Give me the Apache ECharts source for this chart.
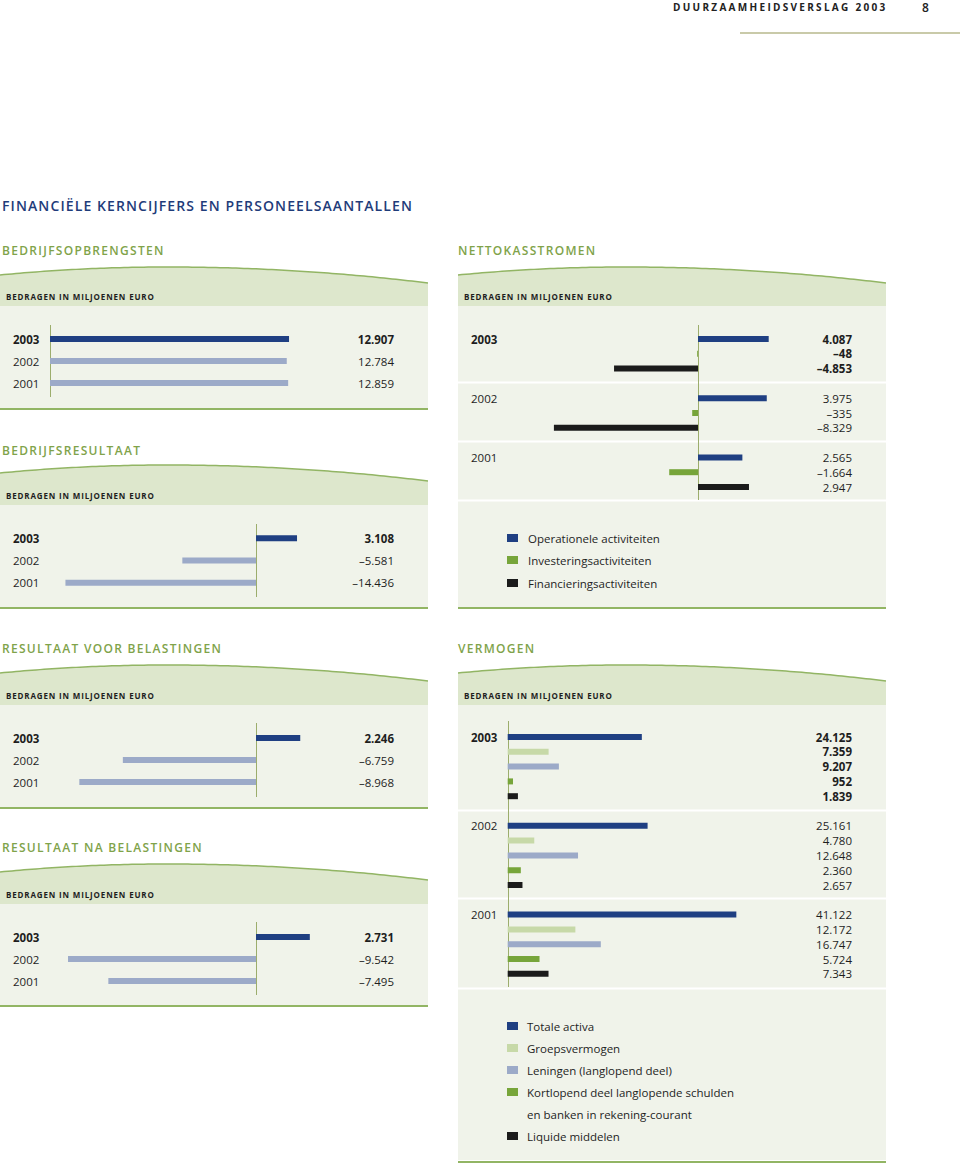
<!DOCTYPE html>
<html><head><meta charset="utf-8">
<script src="https://cdn.jsdelivr.net/npm/echarts@6/dist/echarts.min.js"></script>
<style>html,body{margin:0;padding:0;background:#fff}#c{width:960px;height:1167px}</style>
</head><body><div id="c"></div>
<script>
// ---------- DATA ----------
const years = ['2003', '2002', '2001'];
const opbrengsten = [12907, 12784, 12859];
const bedrijfsresultaat = [3108, -5581, -14436];
const resultaatVoor = [2246, -6759, -8968];
const resultaatNa = [2731, -9542, -7495];

const kasNames = ['Operationele activiteiten', 'Investeringsactiviteiten', 'Financieringsactiviteiten'];
const kasOperationeel = [4087, 3975, 2565];
const kasInvestering = [-48, -335, -1664];
const kasFinanciering = [-4853, -8329, 2947];

const vermNames = ['Totale activa', 'Groepsvermogen', 'Leningen (langlopend deel)',
  'Kortlopend deel langlopende schulden\nen banken in rekening-courant', 'Liquide middelen'];
const totaleActiva = [24125, 25161, 41122];
const groepsvermogen = [7359, 4780, 12172];
const leningen = [9207, 12648, 16747];
const kortlopend = [952, 2360, 5724];
const liquide = [1839, 2657, 7343];

// ---------- STYLE ----------
const FONT = '"Open Sans", "Noto Sans", sans-serif';
const TEXT = '#1e1e1e';
const DARK = '#1f3f82';
const LIGHTBLUE = '#9caac8';
const GREEN = '#77a53a';
const BLACK = '#1b1b1b';
const LIGHTGREEN = '#c7d9a8';
const BAND = '#dde7cc';
const BODY = '#f0f3ea';
const LINEGREEN = '#92b564';
const TITLEGREEN = '#80a34a';
const AXISLINE = '#9cad6c';

const fmt = v => (v < 0 ? '\u2013' : '') + String(Math.abs(v)).replace(/\B(?=(\d{3})+(?!\d))/g, '.');

const grids = [], xAxes = [], yAxes = [], series = [], gfx = [];

function catAxis(gi, data, pos, margin, align, boldIdx) {
  yAxes.push({
    type: 'category', gridIndex: gi, data: data, inverse: true, position: pos,
    axisLine: { show: false }, axisTick: { show: false }, splitLine: { show: false },
    axisLabel: {
      interval: 0, margin: margin, align: align, color: TEXT, fontFamily: FONT, fontSize: 11.5,
      formatter: (v, idx) => v === '' ? '' : (boldIdx.indexOf(idx) >= 0 ? '{b|' + v + '}' : v),
      rich: { b: { fontWeight: 'bold', fontFamily: FONT, fontSize: 11.5, color: TEXT } }
    }
  });
  return yAxes.length - 1;
}

function makeGrid(left, top, width, height, min, max) {
  grids.push({ left: left, top: top, width: width, height: height, containLabel: false, outerBoundsMode: 'none' });
  const gi = grids.length - 1;
  xAxes.push({ type: 'value', gridIndex: gi, min: min, max: max, show: false });
  return gi;
}

// left-column simple panels
function leftChart(values, left, top, width, height, min, max, valueX) {
  const gi = makeGrid(left, top, width, height, min, max);
  const yl = catAxis(gi, years, 'left', left - 13, 'left', [0]);
  catAxis(gi, values.map(fmt), 'right', valueX - (left + width), 'right', [0]);
  series.push({
    type: 'bar', xAxisIndex: gi, yAxisIndex: yl, barWidth: 6, silent: true,
    data: values.map((v, i) => ({ value: v, itemStyle: { color: i === 0 ? DARK : LIGHTBLUE } }))
  });
  return gi;
}

const g0 = leftChart(opbrengsten, 50, 328, 277.8, 66, 0, 15000, 394);
const g1 = leftChart(bedrijfsresultaat, 58, 527, 330, 67, -15000, 10000, 394);
const g2 = leftChart(resultaatVoor, 59, 727, 295.5, 66, -10000, 5000, 394);
const g3 = leftChart(resultaatNa, 59, 926, 295.5, 66, -10000, 5000, 394);

// grouped panels (one slot per bar, one empty slot between years)
function groupedChart(seriesVals, names, colors, left, top, width, height, min, max, valueX) {
  const n = seriesVals.length, per = n + 1, slots = per * 3 - 1;
  const gi = makeGrid(left, top, width, height, min, max);
  const yearCats = [], valCats = [], boldVals = [];
  for (let s = 0; s < slots; s++) { yearCats.push(''); valCats.push(''); }
  years.forEach((y, g) => {
    yearCats[g * per] = y;
    seriesVals.forEach((arr, r) => {
      valCats[g * per + r] = fmt(arr[g]);
      if (g === 0) boldVals.push(g * per + r);
    });
  });
  const yl = catAxis(gi, yearCats, 'left', left - 471, 'left', [0]);
  catAxis(gi, valCats, 'right', valueX - (left + width), 'right', boldVals);
  seriesVals.forEach((arr, r) => {
    const data = new Array(slots).fill(null);
    arr.forEach((v, g) => { data[g * per + r] = v; });
    series.push({
      type: 'bar', name: names[r], xAxisIndex: gi, yAxisIndex: yl, barWidth: 6, barGap: '-100%',
      silent: true, itemStyle: { color: colors[r] }, data: data
    });
  });
  return gi;
}

const g4 = groupedChart([kasOperationeel, kasInvestering, kasFinanciering], kasNames,
  [DARK, GREEN, BLACK], 525, 331.6, 311.4, 162.8, -10000, 8000, 852);
const vermColors = [DARK, LIGHTGREEN, LIGHTBLUE, GREEN, BLACK];
const g5 = groupedChart([totaleActiva, groepsvermogen, leningen, kortlopend, liquide], vermNames,
  vermColors, 507.7, 729.6, 278, 251.6, 0, 50000, 852);

// ---------- DECORATION ----------
function text(str, x, y, font, fill, align) {
  gfx.push({ type: 'text', x: x, y: y, silent: true, z: 5,
    style: { text: str, font: font, fill: fill, textAlign: align || 'left', textVerticalAlign: 'middle' } });
}
function rect(x, y, w, h, fill, z) {
  gfx.push({ type: 'rect', silent: true, z: z || 0, shape: { x: x, y: y, width: w, height: h }, style: { fill: fill } });
}
function curvePts(x0, yl) {
  const pts = [], xp = 167, peak = yl - 8;
  for (let dx = 0; dx <= 428; dx += 4) {
    const y = dx <= xp ? peak + 8 * Math.pow((xp - dx) / xp, 2) : peak + 16 * Math.pow((dx - xp) / (428 - xp), 2);
    pts.push([x0 + dx, y]);
  }
  return pts;
}
function panel(x0, yl, bandBottom, bodyBottom, lineY, seps) {
  const pts = curvePts(x0, yl);
  gfx.push({ type: 'polygon', silent: true, z: 0,
    shape: { points: pts.concat([[x0 + 428, bandBottom], [x0, bandBottom]]) }, style: { fill: BAND } });
  gfx.push({ type: 'polyline', silent: true, z: 1, shape: { points: pts },
    style: { stroke: LINEGREEN, lineWidth: 1.5, fill: null } });
  rect(x0, bandBottom, 428, bodyBottom - bandBottom, BODY, 0);
  (seps || []).forEach(s => rect(x0, s, 428, 2, '#ffffff', 0));
  rect(x0, lineY, 428, 2, LINEGREEN, 1);
  text('BEDRAGEN IN MILJOENEN EURO', x0 + 6, bandBottom - 10, 'bold 8px ' + FONT, TEXT);
}

// header
text('DUURZAAMHEIDSVERSLAG 2003', 673, 7, 'bold 10px ' + FONT, '#222');
text('8', 922, 7, '600 12px ' + FONT, '#222');
gfx.push({ type: 'line', silent: true, shape: { x1: 740, y1: 33, x2: 960, y2: 33 }, style: { stroke: '#b7b98c', lineWidth: 1.5 } });
text('FINANCIËLE KERNCIJFERS EN PERSONEELSAANTALLEN', 2, 205, '600 14px ' + FONT, '#1f3c7a');

const SECT = '600 12px ' + FONT;
text('BEDRIJFSOPBRENGSTEN', 2, 250, SECT, TITLEGREEN);
text('BEDRIJFSRESULTAAT', 2, 450, SECT, TITLEGREEN);
text('RESULTAAT VOOR BELASTINGEN', 2, 648, SECT, TITLEGREEN);
text('RESULTAAT NA BELASTINGEN', 2, 847, SECT, TITLEGREEN);
text('NETTOKASSTROMEN', 458, 250, SECT, TITLEGREEN);
text('VERMOGEN', 458, 648, SECT, TITLEGREEN);

panel(0, 275, 306, 408, 408);
panel(0, 473, 505, 607, 607);
panel(0, 673, 705, 807, 807);
panel(0, 872, 904, 1005, 1005);
panel(458, 275, 306, 607, 607, [381.5, 440.5, 499.5]);
panel(458, 673, 705, 1160, 1161, [809.5, 897.5, 987.5]);

// legends
const LEGFONT = '11.5px ' + FONT;
kasNames.forEach((nm, i) => {
  const cy = [538, 560, 583][i];
  rect(507, cy - 4, 11, 8, [DARK, GREEN, BLACK][i], 3);
  text(nm, 528, cy, LEGFONT, TEXT);
});
const vermY = [1026, 1048, 1070, 1092, 1136];
vermNames.forEach((nm, i) => {
  const cy = vermY[i];
  rect(507, cy - 4, 11, 8, vermColors[i], 3);
  const lines = nm.split('\n');
  lines.forEach((ln, k) => text(ln, 527, cy + k * 22, LEGFONT, TEXT));
});

// ---------- RENDER ----------
const dom = document.getElementById('c');
const chart = echarts.init(dom, null, { renderer: 'svg', width: 960, height: 1167 });
const option = { animation: false, backgroundColor: '#ffffff', grid: grids, xAxis: xAxes, yAxis: yAxes, series: series, graphic: gfx.slice() };
chart.setOption(option);

// zero lines from the library's own scales
const zeroSpans = [[g0, 325, 397], [g1, 524, 597], [g2, 723, 797], [g3, 922, 995], [g4, 325, 500], [g5, 721, 987]];
const lines = zeroSpans.map(([gi, y1, y2]) => {
  const x = Math.round(chart.convertToPixel({ xAxisIndex: gi }, 0)) + 0.5;
  return { type: 'line', silent: true, z: 2, shape: { x1: x, y1: y1, x2: x, y2: y2 }, style: { stroke: AXISLINE, lineWidth: 1 } };
});
chart.setOption({ graphic: gfx.concat(lines) });

// letter spacing for the spaced capitals
const SPACING = {
  'DUURZAAMHEIDSVERSLAG 2003': 2.3,
  'FINANCIËLE KERNCIJFERS EN PERSONEELSAANTALLEN': 1.1,
  'BEDRIJFSOPBRENGSTEN': 1.3, 'BEDRIJFSRESULTAAT': 1.3, 'RESULTAAT VOOR BELASTINGEN': 1.3,
  'RESULTAAT NA BELASTINGEN': 1.3, 'NETTOKASSTROMEN': 1.3, 'VERMOGEN': 1.3,
  'BEDRAGEN IN MILJOENEN EURO': 0.85
};
function applySpacing() {
  dom.querySelectorAll('text').forEach(t => {
    const s = SPACING[t.textContent];
    if (s != null) t.setAttribute('letter-spacing', s);
  });
}
applySpacing();
chart.on('finished', applySpacing);
</script></body></html>
